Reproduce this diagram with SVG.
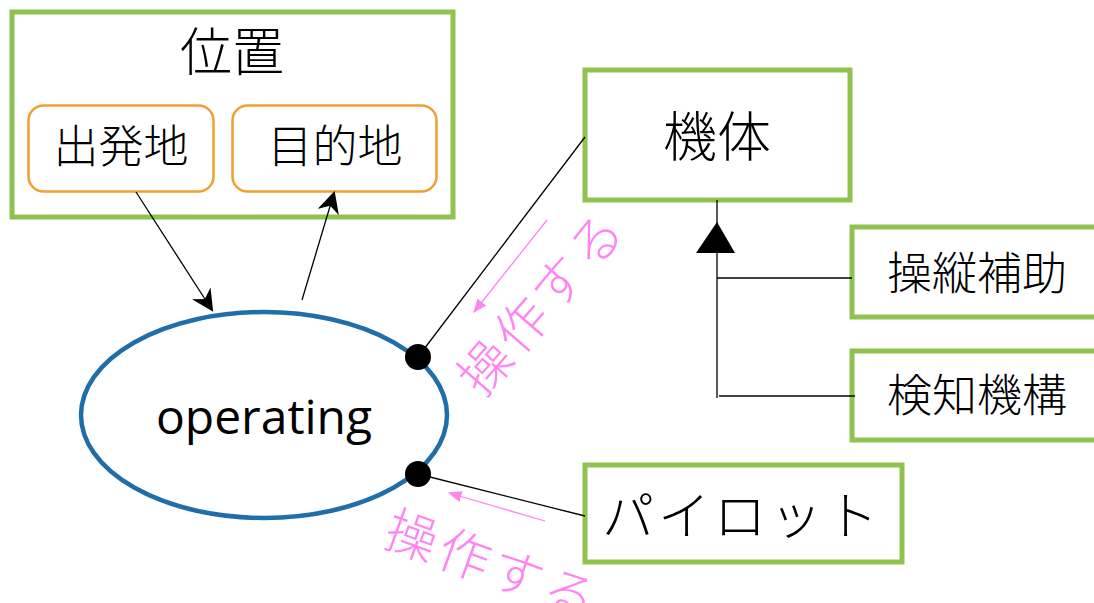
<svg xmlns="http://www.w3.org/2000/svg" width="1094" height="603" viewBox="0 0 1094 603">
<style>
.box{fill:#fff;stroke:#8FC24F;stroke-width:5}
.sub{fill:#fff;stroke:#F0A030;stroke-width:2.5}
.t{font-family:"Noto Sans CJK JP","Noto Sans",sans-serif;font-weight:300;fill:#000;text-anchor:middle;dominant-baseline:central}
.pk{font-family:"Noto Sans CJK JP",sans-serif;font-weight:300;fill:#FF85F2;text-anchor:middle;dominant-baseline:central;font-size:52px;letter-spacing:4px}
.ln{stroke:#000;stroke-width:1.3;fill:none}
.pl{stroke:#FF85F2;stroke-width:1.3;fill:none}
</style>
<defs>
<marker id="ahb" viewBox="0 0 10 10" refX="9" refY="5" markerWidth="22" markerHeight="22" markerUnits="userSpaceOnUse" orient="auto"><path d="M0,0 L10,5 L0,10 L3,5 z" fill="#000"/></marker>
<marker id="pah" viewBox="0 0 10 10" refX="9" refY="5" markerWidth="14" markerHeight="14" markerUnits="userSpaceOnUse" orient="auto"><path d="M0,1 L10,5 L0,9 z" fill="#FF85F2"/></marker>
</defs>
<g id="position">
<rect class="box" x="12" y="12" width="441" height="205"/>
<text class="t" x="232" y="48" font-size="52">位置</text>
</g>
<g id="departure">
<rect class="sub" x="28.5" y="105.5" width="185" height="86" rx="15"/>
<text class="t" x="121" y="143" font-size="45">出発地</text>
</g>
<g id="destination">
<rect class="sub" x="232.5" y="105.5" width="204" height="86" rx="15"/>
<text class="t" x="335" y="143" font-size="45">目的地</text>
</g>
<g id="airframe">
<rect class="box" x="585" y="70" width="265" height="130"/>
<text class="t" x="717" y="133" font-size="54">機体</text>
</g>
<g id="assist">
<rect class="box" x="852" y="227" width="250" height="90"/>
<text class="t" x="977" y="270" font-size="45">操縦補助</text>
</g>
<g id="sensor">
<rect class="box" x="852" y="351" width="250" height="89"/>
<text class="t" x="977" y="392" font-size="45">検知機構</text>
</g>
<g id="pilot">
<rect class="box" x="585" y="465" width="317" height="97"/>
<text class="t" x="742" y="512" font-size="52" letter-spacing="4">パイロット</text>
</g>
<g id="operating">
<ellipse cx="264" cy="415" rx="183" ry="103" fill="#fff" stroke="#1F6EAA" stroke-width="4.5"/>
<text class="t" x="264" y="415" font-size="48" style="font-family:'Open Sans','Noto Sans',sans-serif;font-weight:400">operating</text>
</g>
<g id="connectors">
<line class="ln" x1="136" y1="192" x2="212" y2="310" marker-end="url(#ahb)"/>
<line class="ln" x1="302" y1="300" x2="334" y2="193" marker-end="url(#ahb)"/>
<line class="ln" x1="418" y1="357" x2="585" y2="137"/>
<line class="ln" x1="418" y1="474" x2="585" y2="516"/>
<circle cx="418" cy="357" r="13" fill="#000"/>
<circle cx="418" cy="474" r="13" fill="#000"/>
<line class="ln" x1="717" y1="200" x2="717" y2="398" stroke="#444"/>
<polygon points="717,222 735,253 696,253" fill="#000"/>
<line class="ln" x1="717" y1="278" x2="852" y2="278"/>
<line class="ln" x1="719" y1="396" x2="855" y2="396"/>
<line class="pl" x1="547" y1="220" x2="474" y2="312" marker-end="url(#pah)"/>
<line class="pl" x1="545" y1="521" x2="449" y2="493" marker-end="url(#pah)"/>
</g>
<g id="labels">
<text class="pk" transform="translate(539,300) rotate(-49)">操作する</text>
<text class="pk" transform="translate(494,562) rotate(20)">操作する</text>
</g>
</svg>
